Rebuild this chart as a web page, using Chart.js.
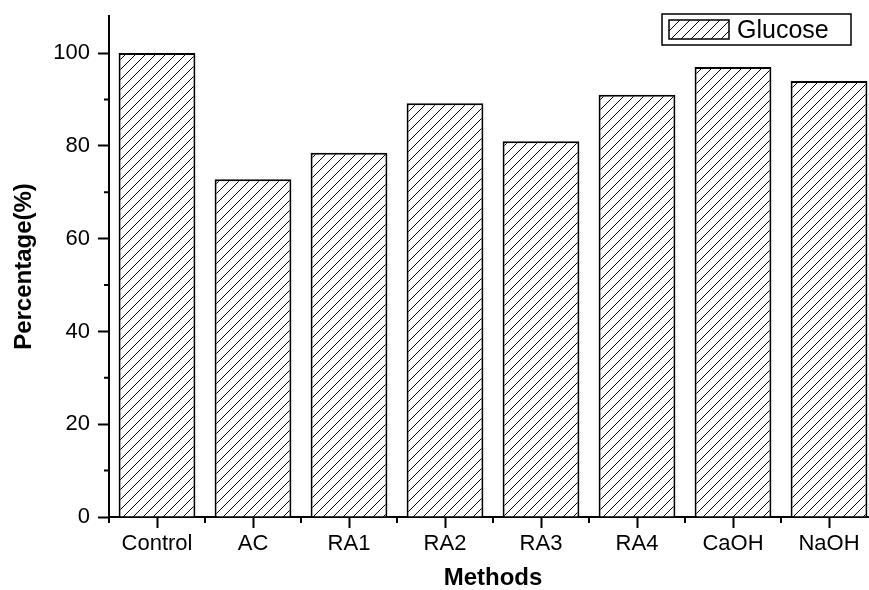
<!DOCTYPE html>
<html>
<head>
<meta charset="utf-8">
<script src="https://cdn.jsdelivr.net/npm/chart.js@4.4.1/dist/chart.umd.min.js"></script>
<style>
  html, body { margin: 0; padding: 0; background: #fff; overflow: hidden; }
  #wrap { width: 880px; height: 590px; }
</style>
</head>
<body>
<div id="wrap"><canvas id="chart"></canvas></div>
<script>
const categories = ['Control', 'AC', 'RA1', 'RA2', 'RA3', 'RA4', 'CaOH', 'NaOH'];
const glucose = [100, 72.8, 78.5, 89.2, 81.0, 91.0, 97.0, 94.0];
const yTickValues = [0, 20, 40, 60, 80, 100];
const yMax = 108;

const FONT = "'Liberation Sans', Arial, sans-serif";

// diagonal hatch fill
function makeHatch() {
    const c = document.createElement('canvas');
    c.width = 10; c.height = 10;
    const g = c.getContext('2d');
    g.fillStyle = '#fff';
    g.fillRect(0, 0, 10, 10);
    g.strokeStyle = '#000';
    g.lineWidth = 1;
    g.beginPath();
    g.moveTo(-1, 11); g.lineTo(11, -1);
    g.moveTo(-1, 1); g.lineTo(1, -1);
    g.moveTo(9, 11); g.lineTo(11, 9);
    g.stroke();
    return g.createPattern(c, 'repeat');
}
const hatch = makeHatch();

// minor ticks + framed legend
const extras = {
    id: 'extras',
    afterDraw(chart) {
        const ctx = chart.ctx;
        const x = chart.scales.x, y = chart.scales.y;
        const area = chart.chartArea;
        ctx.save();
        ctx.strokeStyle = '#000';
        ctx.lineWidth = 2;
        ctx.beginPath();
        // y minor ticks halfway between major ones
        for (let i = 0; i < yTickValues.length - 1; i++) {
            const py = y.getPixelForValue((yTickValues[i] + yTickValues[i + 1]) / 2);
            ctx.moveTo(area.left, py); ctx.lineTo(area.left - 5, py);
        }
        // x minor ticks at category boundaries
        const half = (x.getPixelForValue(1) - x.getPixelForValue(0)) / 2;
        for (let i = 0; i <= categories.length; i++) {
            const px = x.getPixelForValue(0) - half + i * half * 2;
            ctx.moveTo(px, area.bottom); ctx.lineTo(px, area.bottom + 6);
        }
        ctx.stroke();

        // legend
        const ds = chart.data.datasets[0];
        const lx = area.right - 215, ly = area.top - 2;
        ctx.lineWidth = 1.5;
        ctx.strokeRect(lx, ly, 189, 31);
        ctx.fillStyle = ds.backgroundColor;
        ctx.fillRect(lx + 7, ly + 6, 60, 19);
        ctx.strokeRect(lx + 7, ly + 6, 60, 19);
        ctx.fillStyle = '#000';
        ctx.font = '25px ' + FONT;
        ctx.textBaseline = 'middle';
        ctx.fillText(ds.label, lx + 75, ly + 17);
        ctx.restore();
    }
};

const ctx = document.getElementById('chart').getContext('2d');
const glucoseChart = new Chart(ctx, {
    type: 'bar',
    data: {
        labels: categories,
        datasets: [{
            label: 'Glucose',
            data: glucose,
            backgroundColor: hatch,
            borderColor: '#000',
            borderWidth: 2,
            barPercentage: 0.8,
            categoryPercentage: 1.0
        }]
    },
    options: {
        responsive: true,
        maintainAspectRatio: false,
        animation: false,
        layout: { padding: { top: 16, right: 3, left: 0, bottom: 0 } },
        plugins: {
            legend: { display: false },
            tooltip: { enabled: false }
        },
        scales: {
            x: {
                offset: true,
                grid: {
                    offset: false,
                    drawOnChartArea: false,
                    tickLength: 11,
                    tickWidth: 2,
                    tickColor: '#000'
                },
                border: { color: '#000', width: 2 },
                ticks: {
                    color: '#000',
                    font: { family: FONT, size: 22 },
                    padding: 3,
                    maxRotation: 0
                },
                title: {
                    display: true,
                    text: 'Methods',
                    color: '#000',
                    font: { family: FONT, size: 24, weight: 'bold' },
                    padding: { top: 2, bottom: -3 }
                },
                afterFit(scale) {
                    scale.height = 73;
                    scale.paddingLeft = 0;
                    scale.paddingRight = 0;
                }
            },
            y: {
                min: 0,
                max: yMax,
                afterBuildTicks(scale) {
                    scale.ticks = yTickValues.map(v => ({ value: v }));
                },
                grid: {
                    drawOnChartArea: false,
                    tickLength: 11,
                    tickWidth: 2,
                    tickColor: '#000'
                },
                border: { color: '#000', width: 2 },
                ticks: {
                    color: '#000',
                    font: { family: FONT, size: 22 },
                    padding: 8
                },
                title: {
                    display: true,
                    text: 'Percentage(%)',
                    color: '#000',
                    font: { family: FONT, size: 24, weight: 'bold' },
                    padding: { top: 10, bottom: 0 }
                },
                afterFit(scale) {
                    scale.width = 109;
                    scale.paddingTop = 0;
                    scale.paddingBottom = 0;
                }
            }
        }
    },
    plugins: [extras]
});
</script>
</body>
</html>
